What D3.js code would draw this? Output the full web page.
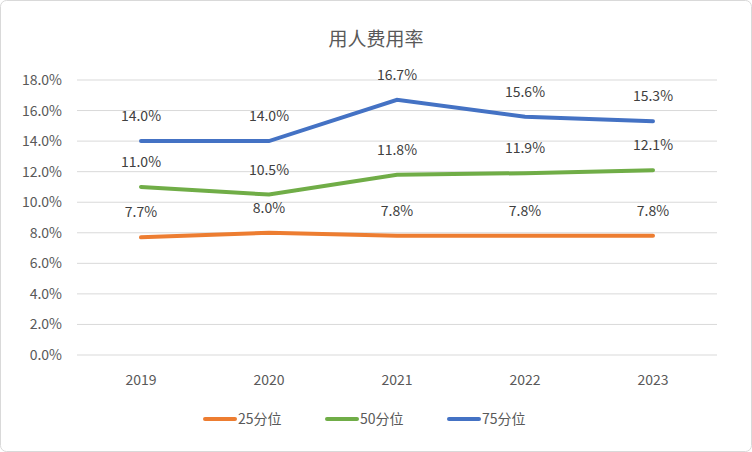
<!DOCTYPE html>
<html><head><meta charset="utf-8">
<script src="https://cdn.jsdelivr.net/npm/d3@7"></script>
<style>body{margin:0;background:#fff}text{font-family:"Microsoft YaHei","Noto Sans CJK SC",sans-serif}</style>
</head><body><svg id="c" width="752" height="452"></svg>
<script>
const years=["2019","2020","2021","2022","2023"];
const p25=[7.7,8.0,7.8,7.8,7.8];
const p50=[11.0,10.5,11.8,11.9,12.1];
const p75=[14.0,14.0,16.7,15.6,15.3];
const seriesNames=["25分位","50分位","75分位"];
const colors=["#ED7D31","#70AD47","#4472C4"];
const yTicks=[0,2,4,6,8,10,12,14,16,18];
const svg=d3.select("#c");
svg.append("rect").attr("x",0.5).attr("y",0.5).attr("width",751).attr("height",451).attr("rx",6).attr("fill","#fff").attr("stroke","#d9d9d9");
const x=d3.scaleBand().domain(years).range([77,717]);
const y=d3.scaleLinear().domain([0,18]).range([355,80]);
const g=svg.append("g");
yTicks.forEach(t=>{
 g.append("line").attr("x1",77).attr("x2",717).attr("y1",y(t)).attr("y2",y(t)).attr("stroke","#d9d9d9");
 g.append("text").attr("x",62).attr("y",y(t)+5).attr("text-anchor","end").attr("font-size",14).attr("fill","#595959").text(t.toFixed(1)+"%");
});
years.forEach(d=>g.append("text").attr("x",x(d)+x.bandwidth()/2).attr("y",385).attr("text-anchor","middle").attr("font-size",14).attr("fill","#595959").text(d));
svg.append("text").attr("x",376).attr("y",46).attr("text-anchor","middle").attr("font-size",19).attr("fill","#595959").text("用人费用率");
const cx=d=>x(d)+x.bandwidth()/2;
[p25,p50,p75].forEach((s,i)=>{
 const line=d3.line().x((v,j)=>cx(years[j])).y(v=>y(v));
 g.append("path").attr("d",line(s)).attr("fill","none").attr("stroke",colors[i]).attr("stroke-width",4).attr("stroke-linecap","round");
 s.forEach((v,j)=>g.append("text").attr("x",cx(years[j])).attr("y",y(v)-20).attr("text-anchor","middle").attr("font-size",14).attr("fill","#404040").text(v.toFixed(1)+"%"));
});
const lx=[205,327,449];
seriesNames.forEach((n,i)=>{
 svg.append("line").attr("x1",lx[i]).attr("x2",lx[i]+30).attr("y1",419).attr("y2",419).attr("stroke",colors[i]).attr("stroke-width",4).attr("stroke-linecap","round");
 svg.append("text").attr("x",lx[i]+33).attr("y",424).attr("font-size",14).attr("fill","#595959").text(n);
});
</script></body></html>
